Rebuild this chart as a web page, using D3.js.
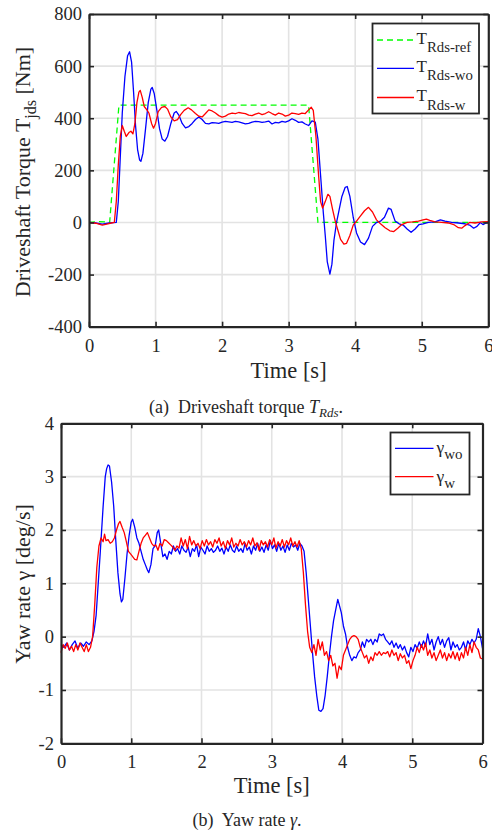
<!DOCTYPE html>
<html>
<head>
<meta charset="utf-8">
<script src="https://cdn.jsdelivr.net/npm/d3@7"></script>
<style>
body { margin: 0; background: #fff; }
svg { display: block; }
text { font-family: "Liberation Serif", "Times New Roman", serif; fill: #262626; }
</style>
</head>
<body>
<svg id="canvas"></svg>
<script>
// ---- data (time [s], value) ----
let timeTicks = [0, 1, 2, 3, 4, 5, 6]
let torqueTicks = [-400, -200, 0, 200, 400, 600, 800]
let yawTicks = [-2, -1, 0, 1, 2, 3, 4]

let torqueRef = [[0,0],[0.15,3],[0.25,2],[0.31,0],[0.45,450],[3.30,450],[3.44,0],[6,0]]

let torqueWo = [[0,0],[0.1,-2],[0.2,-6],[0.3,-2],[0.41,0],[0.44,80],[0.47,250],[0.5,420],[0.54,560],[0.58,640],[0.61,655],
  [0.64,615],[0.67,500],[0.7,370],[0.73,280],[0.76,240],[0.78,235],[0.81,265],[0.85,360],[0.89,460],[0.93,512],[0.95,518],
  [0.98,495],[1.02,430],[1.06,360],[1.1,320],[1.14,312],[1.18,330],[1.23,380],[1.28,420],[1.31,426],[1.35,412],[1.4,380],
  [1.45,363],[1.5,368],[1.55,380],[1.6,395],[1.65,405],[1.7,395],[1.75,380],[1.8,378],[1.85,383],[1.9,382],[1.95,380],
  [2.0,385],[2.05,388],[2.1,386],[2.15,384],[2.2,388],[2.25,386],[2.3,382],[2.35,378],[2.4,380],[2.45,385],[2.5,388],
  [2.55,387],[2.6,384],[2.65,386],[2.7,389],[2.75,378],[2.8,384],[2.85,382],[2.9,388],[2.95,385],[3.0,390],[3.05,398],
  [3.1,392],[3.15,384],[3.2,386],[3.25,378],[3.3,372],[3.35,390],[3.4,385],[3.44,320],[3.48,180],[3.52,40],[3.55,-50],
  [3.58,-150],[3.62,-198],[3.65,-160],[3.68,-70],[3.72,0],[3.76,50],[3.8,100],[3.85,135],[3.88,138],[3.92,100],[3.97,20],
  [4.02,-40],[4.08,-75],[4.14,-85],[4.2,-60],[4.26,-15],[4.32,0],[4.38,5],[4.44,20],[4.5,55],[4.54,50],[4.6,5],[4.66,-5],
  [4.72,-10],[4.78,-25],[4.84,-38],[4.9,-25],[4.96,-8],[5.02,-5],[5.1,0],[5.2,2],[5.28,10],[5.35,5],[5.45,0],[5.55,-2],
  [5.65,-5],[5.72,-10],[5.78,-22],[5.83,-15],[5.88,0],[5.92,-8],[5.96,-3],[6,0]]

let torqueW = [[0,0],[0.1,-3],[0.2,-10],[0.3,-4],[0.38,0],[0.41,80],[0.44,220],[0.47,330],[0.5,372],[0.53,350],[0.56,330],
  [0.6,345],[0.63,350],[0.66,340],[0.69,380],[0.72,460],[0.75,500],[0.77,507],[0.8,480],[0.83,445],[0.87,432],[0.9,420],
  [0.94,380],[0.97,362],[1.0,380],[1.04,425],[1.09,442],[1.14,445],[1.18,435],[1.23,405],[1.28,390],[1.33,395],[1.38,415],
  [1.43,430],[1.49,440],[1.54,432],[1.6,418],[1.65,408],[1.7,405],[1.75,418],[1.8,432],[1.85,428],[1.9,420],[1.95,410],
  [2.0,404],[2.05,408],[2.1,416],[2.15,420],[2.2,418],[2.25,422],[2.3,420],[2.35,418],[2.4,412],[2.45,410],[2.5,416],
  [2.55,420],[2.6,414],[2.65,418],[2.7,425],[2.75,418],[2.8,412],[2.85,420],[2.9,416],[2.95,408],[3.0,412],[3.05,420],
  [3.1,418],[3.15,415],[3.2,420],[3.25,418],[3.3,432],[3.34,442],[3.37,430],[3.41,330],[3.45,180],[3.48,80],[3.51,55],
  [3.55,80],[3.59,108],[3.62,100],[3.66,50],[3.7,5],[3.74,-30],[3.78,-65],[3.83,-83],[3.87,-80],[3.92,-50],[3.97,-10],
  [4.02,5],[4.08,25],[4.14,45],[4.2,58],[4.26,40],[4.32,10],[4.38,-5],[4.45,-20],[4.52,-32],[4.58,-35],[4.64,-22],
  [4.7,-8],[4.78,0],[4.86,2],[4.95,5],[5.02,10],[5.07,13],[5.12,8],[5.2,2],[5.3,0],[5.4,-2],[5.48,-8],[5.55,-20],
  [5.6,-22],[5.65,-12],[5.72,0],[5.8,-2],[5.9,2],[6,3]]

let yawWo = [[0,-0.15],[0.04,-0.2],[0.08,-0.12],[0.12,-0.25],[0.16,-0.15],[0.2,-0.08],[0.24,-0.22],[0.28,-0.12],[0.32,-0.18],
  [0.36,-0.1],[0.4,-0.15],[0.44,-0.08],[0.47,0.1],[0.5,0.4],[0.53,1.0],[0.56,1.6],[0.6,2.45],[0.63,3.0],[0.65,3.15],
  [0.67,3.22],[0.69,3.2],[0.72,2.9],[0.75,2.45],[0.78,1.8],[0.81,1.2],[0.84,0.8],[0.86,0.65],[0.88,0.7],[0.91,1.1],
  [0.94,1.55],[0.97,1.9],[1.0,2.15],[1.02,2.2],[1.05,2.05],[1.08,1.85],[1.11,1.75],[1.14,1.6],[1.17,1.45],[1.2,1.35],
  [1.23,1.25],[1.25,1.2],[1.28,1.35],[1.31,1.65],[1.34,1.7],[1.37,1.95],[1.39,2.0],[1.42,1.75],[1.45,1.5],[1.48,1.55],
  [1.51,1.45],[1.54,1.6],[1.57,1.55],[1.6,1.7],[1.63,1.6],[1.66,1.65],[1.69,1.55],[1.72,1.7],[1.75,1.62],[1.78,1.58],
  [1.81,1.68],[1.84,1.5],[1.87,1.65],[1.9,1.6],[1.93,1.72],[1.96,1.5],[1.99,1.68],[2.02,1.62],[2.05,1.55],[2.08,1.7],
  [2.11,1.6],[2.14,1.65],[2.17,1.58],[2.2,1.62],[2.23,1.7],[2.26,1.6],[2.29,1.66],[2.32,1.55],[2.35,1.68],[2.38,1.6],
  [2.41,1.72],[2.44,1.62],[2.47,1.58],[2.5,1.7],[2.53,1.6],[2.56,1.65],[2.59,1.58],[2.62,1.75],[2.65,1.62],[2.68,1.68],
  [2.71,1.55],[2.74,1.7],[2.77,1.62],[2.8,1.75],[2.83,1.6],[2.86,1.68],[2.89,1.58],[2.92,1.72],[2.95,1.62],[2.98,1.8],
  [3.01,1.65],[3.04,1.72],[3.07,1.6],[3.1,1.75],[3.13,1.62],[3.16,1.7],[3.19,1.58],[3.22,1.72],[3.25,1.62],[3.28,1.75],
  [3.31,1.68],[3.34,1.72],[3.37,1.62],[3.4,1.75],[3.43,1.7],[3.46,1.6],[3.49,1.2],[3.52,0.7],[3.55,0.2],[3.58,-0.3],
  [3.61,-0.75],[3.64,-1.1],[3.67,-1.38],[3.7,-1.4],[3.73,-1.35],[3.76,-1.1],[3.79,-0.75],[3.82,-0.35],[3.85,0.0],
  [3.88,0.3],[3.91,0.5],[3.94,0.7],[3.96,0.6],[3.99,0.45],[4.02,0.2],[4.05,0.05],[4.08,-0.2],[4.11,-0.35],[4.14,-0.45],
  [4.17,-0.38],[4.2,-0.4],[4.23,-0.3],[4.26,-0.25],[4.29,-0.1],[4.32,-0.2],[4.35,-0.05],[4.38,-0.1],[4.41,-0.05],
  [4.44,-0.15],[4.47,-0.05],[4.5,-0.1],[4.53,0.05],[4.56,0.02],[4.59,0.05],[4.62,-0.05],[4.65,-0.1],[4.68,-0.15],
  [4.71,-0.08],[4.74,-0.2],[4.77,-0.12],[4.8,-0.22],[4.83,-0.15],[4.86,-0.25],[4.89,-0.18],[4.92,-0.3],[4.95,-0.38],
  [4.98,-0.2],[5.01,-0.28],[5.04,-0.15],[5.07,-0.22],[5.1,-0.1],[5.13,-0.2],[5.16,-0.08],[5.19,-0.18],[5.22,0.05],
  [5.25,-0.15],[5.28,-0.05],[5.31,-0.25],[5.34,-0.1],[5.37,0.0],[5.4,-0.15],[5.43,-0.05],[5.46,-0.2],[5.49,-0.08],
  [5.52,-0.02],[5.55,-0.25],[5.58,-0.1],[5.61,-0.2],[5.64,-0.15],[5.67,-0.25],[5.7,-0.2],[5.73,-0.1],[5.76,-0.25],
  [5.79,-0.08],[5.82,-0.15],[5.85,-0.05],[5.88,-0.12],[5.91,-0.05],[5.94,0.15],[5.97,0.0],[6.0,-0.22]]

let yawW = [[0,-0.3],[0.03,-0.15],[0.06,-0.22],[0.09,-0.12],[0.12,-0.25],[0.15,-0.18],[0.18,-0.28],[0.21,-0.15],
  [0.24,-0.25],[0.27,-0.12],[0.3,-0.2],[0.33,-0.28],[0.36,-0.15],[0.39,-0.28],[0.42,-0.2],[0.45,0.0],[0.48,0.6],
  [0.51,1.3],[0.54,1.7],[0.57,1.85],[0.6,1.78],[0.62,1.92],[0.64,1.8],[0.67,1.82],[0.7,1.75],[0.73,1.78],[0.76,1.85],
  [0.79,2.0],[0.82,2.12],[0.84,2.16],[0.87,2.05],[0.9,1.95],[0.93,1.78],[0.96,1.6],[0.99,1.55],[1.02,1.5],[1.05,1.45],
  [1.08,1.44],[1.11,1.6],[1.14,1.75],[1.17,1.85],[1.2,1.9],[1.23,1.95],[1.26,1.85],[1.29,1.75],[1.32,1.7],[1.35,1.72],
  [1.38,1.62],[1.41,1.75],[1.44,1.7],[1.47,1.82],[1.5,1.8],[1.53,1.76],[1.56,1.72],[1.59,1.68],[1.62,1.62],[1.65,1.7],
  [1.68,1.66],[1.71,1.85],[1.74,1.7],[1.77,1.82],[1.8,1.65],[1.83,1.88],[1.86,1.72],[1.89,1.8],[1.92,1.7],[1.95,1.75],
  [1.98,1.65],[2.01,1.8],[2.04,1.7],[2.07,1.82],[2.1,1.72],[2.13,1.78],[2.16,1.68],[2.19,1.82],[2.22,1.75],[2.25,1.85],
  [2.28,1.7],[2.31,1.78],[2.34,1.65],[2.37,1.8],[2.4,1.72],[2.43,1.85],[2.46,1.68],[2.49,1.75],[2.52,1.7],[2.55,1.82],
  [2.58,1.72],[2.61,1.78],[2.64,1.68],[2.67,1.8],[2.7,1.72],[2.73,1.85],[2.76,1.7],[2.79,1.76],[2.82,1.62],[2.85,1.8],
  [2.88,1.72],[2.91,1.78],[2.94,1.68],[2.97,1.82],[3.0,1.72],[3.03,1.85],[3.06,1.66],[3.09,1.78],[3.12,1.7],[3.15,1.82],
  [3.18,1.68],[3.21,1.8],[3.24,1.72],[3.27,1.85],[3.3,1.7],[3.33,1.78],[3.36,1.68],[3.39,1.8],[3.42,1.65],[3.45,1.2],
  [3.48,0.6],[3.51,0.1],[3.54,-0.2],[3.57,-0.3],[3.6,-0.15],[3.63,-0.35],[3.66,-0.05],[3.69,-0.25],[3.72,-0.1],
  [3.75,-0.35],[3.78,-0.28],[3.81,-0.45],[3.84,-0.35],[3.87,-0.55],[3.9,-0.5],[3.93,-0.78],[3.96,-0.55],[3.99,-0.62],
  [4.02,-0.35],[4.05,-0.25],[4.08,-0.15],[4.11,-0.05],[4.14,0.0],[4.17,0.02],[4.2,0.0],[4.23,-0.05],[4.26,-0.2],
  [4.29,-0.3],[4.32,-0.4],[4.35,-0.35],[4.38,-0.5],[4.41,-0.38],[4.44,-0.45],[4.47,-0.3],[4.5,-0.35],[4.53,-0.28],
  [4.56,-0.35],[4.59,-0.3],[4.62,-0.32],[4.65,-0.28],[4.68,-0.38],[4.71,-0.25],[4.74,-0.35],[4.77,-0.3],[4.8,-0.45],
  [4.83,-0.32],[4.86,-0.4],[4.89,-0.35],[4.92,-0.5],[4.95,-0.45],[4.98,-0.6],[5.01,-0.45],[5.04,-0.35],[5.07,-0.2],
  [5.1,-0.3],[5.13,-0.15],[5.16,-0.25],[5.19,-0.12],[5.22,-0.35],[5.25,-0.25],[5.28,-0.4],[5.31,-0.3],[5.34,-0.45],
  [5.37,-0.35],[5.4,-0.25],[5.43,-0.4],[5.46,-0.3],[5.49,-0.45],[5.52,-0.32],[5.55,-0.4],[5.58,-0.28],[5.61,-0.42],
  [5.64,-0.3],[5.67,-0.45],[5.7,-0.3],[5.73,-0.4],[5.76,-0.2],[5.79,-0.35],[5.82,-0.15],[5.85,-0.3],[5.88,-0.1],
  [5.91,-0.2],[5.94,-0.25],[5.97,-0.4],[6.0,-0.42]]

let width = 492
let height = 832
let axisColor = '#262626'
let gridColor = '#e3e3e3'

let svg = d3.select('#canvas')
    .attr('width', width)
    .attr('height', height)

svg.append('rect')
    .attr('width', width)
    .attr('height', height)
    .attr('fill', '#fff')

let plainFormat = (d) => String(d)

// light grid behind the curves
let drawGrid = (xScale, yScale, xTicks, yTicks) => {
    let [left, right] = xScale.range()
    let [bottom, top] = yScale.range()
    let g = svg.append('g')

    g.append('g')
        .selectAll('line')
        .data(xTicks.slice(1, -1))
        .join('line')
        .attr('x1', (d) => xScale(d))
        .attr('x2', (d) => xScale(d))
        .attr('y1', bottom)
        .attr('y2', top)
        .attr('stroke', gridColor)
        .attr('stroke-width', 1.6)

    g.append('g')
        .selectAll('line')
        .data(yTicks.slice(1, -1))
        .join('line')
        .attr('x1', left)
        .attr('x2', right)
        .attr('y1', (d) => yScale(d))
        .attr('y2', (d) => yScale(d))
        .attr('stroke', gridColor)
        .attr('stroke-width', 1.6)
}

// box with inward ticks on all four sides
let drawAxes = (xScale, yScale, xTicks, yTicks) => {
    let [left, right] = xScale.range()
    let [bottom, top] = yScale.range()
    let g = svg.append('g')

    let xAxis = d3.axisBottom(xScale)
        .tickValues(xTicks)
        .tickFormat(plainFormat)
        .tickSizeInner(-5)
        .tickSizeOuter(0)
        .tickPadding(12)
    let yAxis = d3.axisLeft(yScale)
        .tickValues(yTicks)
        .tickFormat(plainFormat)
        .tickSizeInner(-5)
        .tickSizeOuter(0)
        .tickPadding(7)
    let xTop = d3.axisTop(xScale)
        .tickValues(xTicks)
        .tickFormat('')
        .tickSizeInner(-5)
        .tickSizeOuter(0)
    let yRight = d3.axisRight(yScale)
        .tickValues(yTicks)
        .tickFormat('')
        .tickSizeInner(-5)
        .tickSizeOuter(0)

    let parts = [
        g.append('g').attr('transform', 'translate(0,' + bottom + ')').call(xAxis),
        g.append('g').attr('transform', 'translate(' + left + ',0)').call(yAxis),
        g.append('g').attr('transform', 'translate(0,' + top + ')').call(xTop),
        g.append('g').attr('transform', 'translate(' + right + ',0)').call(yRight)
    ]
    parts.forEach((p) => {
        p.select('.domain').attr('stroke', axisColor).attr('stroke-width', 2.2)
        p.selectAll('.tick line').attr('stroke', axisColor).attr('stroke-width', 1.6)
        p.selectAll('.tick text')
            .attr('fill', axisColor)
            .style('font-family', '"Liberation Serif", serif')
            .style('font-size', '18.5px')
    })
}

let drawSeries = (xScale, yScale, pts, color, dash) => {
    let line = d3.line()
        .x((d) => xScale(d[0]))
        .y((d) => yScale(d[1]))
    svg.append('path')
        .datum(pts)
        .attr('d', line)
        .attr('fill', 'none')
        .attr('stroke', color)
        .attr('stroke-width', 1.3)
        .attr('stroke-linejoin', 'round')
        .attr('stroke-dasharray', dash || null)
}

// ---------- panel (a) ----------
let xScaleA = d3.scaleLinear().domain([0, 6]).range([89, 488.3])
let yScaleA = d3.scaleLinear().domain([-400, 800]).range([326.7, 14])

drawGrid(xScaleA, yScaleA, timeTicks, torqueTicks)
drawSeries(xScaleA, yScaleA, torqueRef, '#00ff00', '6,4')
drawSeries(xScaleA, yScaleA, torqueWo, '#0000ff')
drawSeries(xScaleA, yScaleA, torqueW, '#ff0000')
drawAxes(xScaleA, yScaleA, timeTicks, torqueTicks)

let yLabelA = svg.append('text')
    .attr('transform', 'translate(30,172) rotate(-90)')
    .attr('text-anchor', 'middle')
    .style('font-size', '22px')
yLabelA.append('tspan').text('Driveshaft Torque T')
yLabelA.append('tspan').attr('dy', 6).style('font-size', '16px').text('jds')
yLabelA.append('tspan').attr('dy', -6).text(' [Nm]')

svg.append('text')
    .attr('x', 288.6)
    .attr('y', 378)
    .attr('text-anchor', 'middle')
    .style('font-size', '22.5px')
    .text('Time [s]')

let capA = svg.append('text')
    .attr('x', 246)
    .attr('y', 413)
    .attr('text-anchor', 'middle')
    .style('font-size', '18px')
capA.append('tspan').text('(a)\u00a0 Driveshaft torque ')
capA.append('tspan').style('font-style', 'italic').text('T')
capA.append('tspan').attr('dy', 4).style('font-style', 'italic').style('font-size', '13px').text('Rds')
capA.append('tspan').attr('dy', -4).text('.')

// legend (a)
let legendA = [
    { name: 'Rds-ref', color: '#00ff00', dash: '6,4', y: 40 },
    { name: 'Rds-wo', color: '#0000ff', dash: null, y: 68.3 },
    { name: 'Rds-w', color: '#ff0000', dash: null, y: 97.5 }
]
svg.append('rect')
    .attr('x', 372.5)
    .attr('y', 23.5)
    .attr('width', 106.5)
    .attr('height', 90)
    .attr('fill', '#fff')
    .attr('stroke', axisColor)
    .attr('stroke-width', 1.8)
legendA.forEach((d) => {
    svg.append('line')
        .attr('x1', 377).attr('x2', 414)
        .attr('y1', d.y).attr('y2', d.y)
        .attr('stroke', d.color)
        .attr('stroke-width', 1.3)
        .attr('stroke-dasharray', d.dash)
    let t = svg.append('text')
        .attr('x', 416.5)
        .attr('y', d.y + 3.5)
        .style('font-size', '17px')
    t.append('tspan').text('T')
    t.append('tspan').attr('dy', 8.5).style('font-size', '14.8px').text(d.name)
})

// ---------- panel (b) ----------
let xScaleB = d3.scaleLinear().domain([0, 6]).range([61, 482.5])
let yScaleB = d3.scaleLinear().domain([-2, 4]).range([743.3, 423.3])

drawGrid(xScaleB, yScaleB, timeTicks, yawTicks)
drawSeries(xScaleB, yScaleB, yawWo, '#0000ff')
drawSeries(xScaleB, yScaleB, yawW, '#ff0000')
drawAxes(xScaleB, yScaleB, timeTicks, yawTicks)

svg.append('text')
    .attr('transform', 'translate(30,584) rotate(-90)')
    .attr('text-anchor', 'middle')
    .style('font-size', '22px')
    .text('Yaw rate \u03b3 [deg/s]')

svg.append('text')
    .attr('x', 271.8)
    .attr('y', 793)
    .attr('text-anchor', 'middle')
    .style('font-size', '22.5px')
    .text('Time [s]')

let capB = svg.append('text')
    .attr('x', 247)
    .attr('y', 826)
    .attr('text-anchor', 'middle')
    .style('font-size', '18px')
capB.append('tspan').text('(b)\u00a0 Yaw rate ')
capB.append('tspan').style('font-style', 'italic').text('\u03b3')
capB.append('tspan').text('.')

// legend (b)
let legendB = [
    { name: 'wo', color: '#0000ff', y: 448.3 },
    { name: 'w', color: '#ff0000', y: 476.7 }
]
svg.append('rect')
    .attr('x', 390.5)
    .attr('y', 432.5)
    .attr('width', 79)
    .attr('height', 62)
    .attr('fill', '#fff')
    .attr('stroke', axisColor)
    .attr('stroke-width', 1.8)
legendB.forEach((d) => {
    svg.append('line')
        .attr('x1', 395).attr('x2', 433.5)
        .attr('y1', d.y).attr('y2', d.y)
        .attr('stroke', d.color)
        .attr('stroke-width', 1.3)
    let t = svg.append('text')
        .attr('x', 436.5)
        .attr('y', d.y + 5)
        .style('font-size', '17.5px')
    t.append('tspan').text('\u03b3')
    t.append('tspan').attr('dy', 6).style('font-size', '15px').text(d.name)
})
</script>
</body>
</html>
